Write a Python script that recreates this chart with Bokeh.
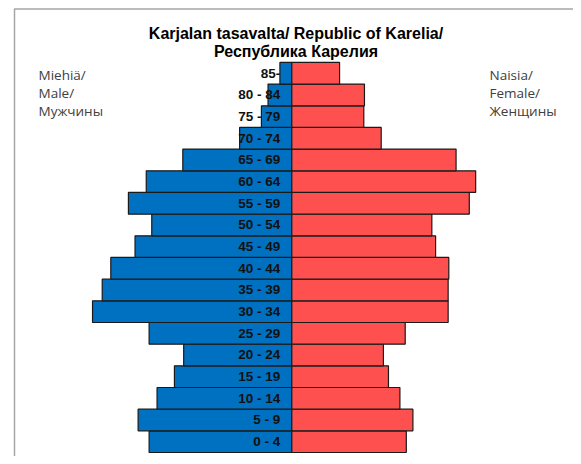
from bokeh.plotting import figure
from bokeh.models import Range1d, ColumnDataSource
from bokeh.core.properties import value
from bokeh.embed import file_html
from bokeh.resources import INLINE

# ---- data (share of each sex, %) ----
ages = ["0 - 4", "5 - 9", "10 - 14", "15 - 19", "20 - 24", "25 - 29", "30 - 34",
        "35 - 39", "40 - 44", "45 - 49", "50 - 54", "55 - 59", "60 - 64",
        "65 - 69", "70 - 74", "75 - 79", "80 - 84", "85-"]
male = [6.48, 6.98, 6.12, 5.33, 4.91, 6.48, 9.05, 8.61, 8.22, 7.12, 6.36, 7.42,
        6.61, 4.95, 2.37, 1.38, 1.08, 0.54]
female = [5.20, 5.50, 4.91, 4.39, 4.16, 5.15, 7.10, 7.10, 7.13, 6.53, 6.36, 8.06,
          8.35, 7.46, 4.06, 3.27, 3.30, 2.17]

title_lines = ["Karjalan tasavalta/ Republic of Karelia/", "Республика Карелия"]
male_label = ["Miehiä/", "Male/", "Мужчины"]
female_label = ["Naisia/", "Female/", "Женщины"]

# ---- layout ----
W, H = 573, 456
CX = 291.3      # pixel of zero
S = 22.02       # pixels per percent
R = 21.67       # row height in px
BOT = 452.0     # pixel of bottom of lowest bar


def px(xc):
    return (xc - CX) / S


def py(yc):
    return (BOT - yc) / R - 0.5


p = figure(width=W, height=H, output_backend="svg", toolbar_location=None,
           x_range=Range1d(px(0), px(W)), y_range=Range1d(py(H), py(0)),
           x_axis_location=None, y_axis_location=None, min_border=0,
           outline_line_color=None, background_fill_color="white",
           border_fill_color="white")
p.xgrid.visible = False
p.ygrid.visible = False

idx = list(range(len(ages)))
src = ColumnDataSource(dict(y=idx, age=ages,
                            mleft=[-m for m in male], f=female,
                            zero=[0] * len(ages)))

p.hbar(y="y", left="mleft", right="zero", height=1, source=src,
       fill_color="#0070C0", line_color="#1a1a1a", line_width=1.2)
p.hbar(y="y", left="zero", right="f", height=1, source=src,
       fill_color="#FF5050", line_color="#1a1a1a", line_width=1.2)

# age labels
p.text(x=px(279.8), y="y", text="age", source=src,
       text_align="right", text_baseline="middle",
       text_font=value("Liberation Sans"), text_font_style="bold",
       text_font_size="13.5px", text_color="#111111")

# frame border (top + left)
p.line(x=[px(14), px(14), px(W + 2)], y=[py(H + 2), py(8.5), py(8.5)],
       line_color="#a6a6a6", line_width=1.5)

# title
p.text(x=[px(295.5), px(295.5)], y=[py(32.5), py(50.5)], text=title_lines,
       text_align="center", text_baseline="alphabetic",
       text_font=value("Liberation Sans"), text_font_style="bold",
       text_font_size="16px", text_color="#000000")

# side labels
ys = [py(74), py(92), py(110)]
p.text(x=[px(38)] * 3, y=ys, text=male_label,
       text_align="left", text_baseline="alphabetic",
       text_font=value("Open Sans"), text_font_size="13.5px", text_color="#404040")
p.text(x=[px(489)] * 3, y=ys, text=female_label,
       text_align="left", text_baseline="alphabetic",
       text_font=value("Open Sans"), text_font_size="13.5px", text_color="#404040")

open("out.html", "w").write(file_html(p, INLINE))
